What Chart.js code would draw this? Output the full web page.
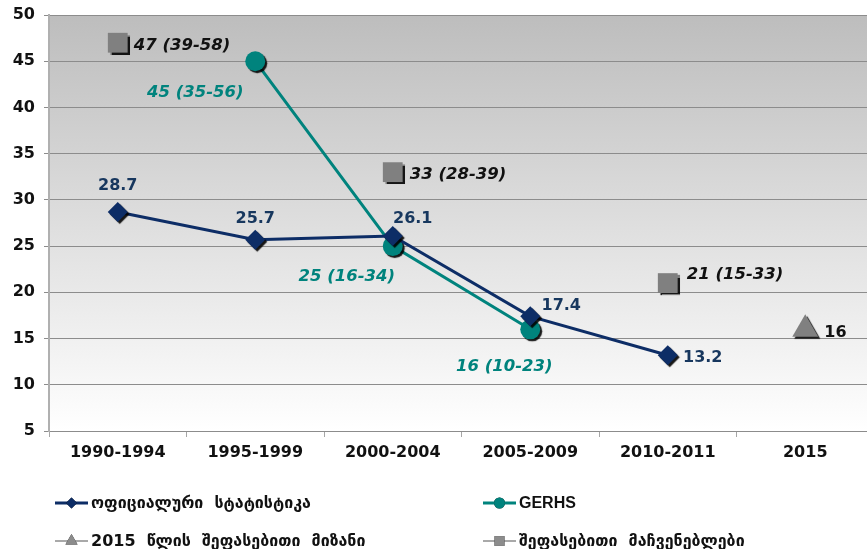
<!DOCTYPE html>
<html>
<head>
<meta charset="utf-8">
<script src="https://cdn.jsdelivr.net/npm/chart.js@4.4.0/dist/chart.umd.min.js"></script>
<style>
  html, body { margin: 0; padding: 0; background: #fff; overflow: hidden; }
  #wrap { width: 889px; height: 549px; }
</style>
</head>
<body>
<div id="wrap"><canvas id="lineChart" width="889" height="549"></canvas></div>
<script>
// categories and values
const periods = ["1990-1994", "1995-1999", "2000-2004", "2005-2009", "2010-2011", "2015"];
const officialStats = [28.7, 25.7, 26.1, 17.4, 13.2, null];
const gerhsValues = [null, 45, 25, 16, null, null];
const gerhsLabels = [null, "45 (35-56)", "25 (16-34)", "16 (10-23)", null, null];
const target2015 = [null, null, null, null, null, 16];
const estimateValues = [47, null, 33, null, 21, null];
const estimateLabels = ["47 (39-58)", null, "33 (28-39)", null, "21 (15-33)", null];
const yTicks = [5, 10, 15, 20, 25, 30, 35, 40, 45, 50];

const legendNames = [
  "ოფიციალური  სტატისტიკა",
  "GERHS",
  "2015  წლის  შეფასებითი  მიზანი",
  "შეფასებითი  მაჩვენებლები",
];

const navy = "#0d2d66";
const navyText = "#17375e";
const teal = "#00837d";
const grey = "#808080";

const ctx = document.getElementById("lineChart").getContext("2d");

//! gradient behind the plot area
const plotBackground = {
  id: "plotBackground",
  beforeDraw(chart) {
    const { ctx, chartArea: a } = chart;
    const g = ctx.createLinearGradient(0, a.top, 0, a.bottom);
    g.addColorStop(0, "#bdbdbd");
    g.addColorStop(1, "#ffffff");
    ctx.save();
    ctx.fillStyle = g;
    ctx.fillRect(a.left, a.top, a.right - a.left, a.bottom - a.top);
    ctx.restore();
  },
};

//! shadow under the markers, not under the lines
const markerShadow = {
  id: "markerShadow",
  beforeDatasetDraw(chart, args) {
    const ctx = chart.ctx;
    const line = args.meta.dataset;
    if (line && !line._noShadow) {
      const orig = line.draw;
      line.draw = function (c, area) {
        c.save();
        c.shadowColor = "transparent";
        orig.call(this, c, area);
        c.restore();
      };
      line._noShadow = true;
    }
    ctx.save();
    ctx.shadowColor = "rgba(0,0,0,0.9)";
    ctx.shadowOffsetX = 2;
    ctx.shadowOffsetY = 2;
    ctx.shadowBlur = 1;
  },
  afterDatasetDraw(chart) {
    chart.ctx.restore();
  },
};

//! value labels next to the points
const valueLabels = {
  id: "valueLabels",
  afterDatasetsDraw(chart) {
    const ctx = chart.ctx;
    ctx.save();
    ctx.textBaseline = "middle";
    chart.data.datasets.forEach((ds, i) => {
      const meta = chart.getDatasetMeta(i);
      const opt = ds.labelOpts;
      meta.data.forEach((pt, j) => {
        if (ds.data[j] === null) return;
        const text = opt.texts ? opt.texts[j] : String(ds.data[j]);
        const off = opt.offsets[j] || [0, 0];
        ctx.font = opt.font;
        ctx.fillStyle = opt.color;
        ctx.textAlign = opt.align;
        ctx.fillText(text, pt.x + off[0], pt.y + off[1]);
      });
    });
    ctx.restore();
  },
};

//! legend in two rows of two, drawn by hand
const customLegend = {
  id: "customLegend",
  afterDraw(chart) {
    const ctx = chart.ctx;
    const cols = [55, 483];
    const rows = [503, 541];
    ctx.save();
    chart.data.datasets.forEach((ds, i) => {
      const x = cols[i % 2];
      const y = rows[Math.floor(i / 2)];
      const lc = ds.legendColor;
      ctx.strokeStyle = lc;
      ctx.lineWidth = i < 2 ? 3 : 1.5;
      ctx.beginPath();
      ctx.moveTo(x, y);
      ctx.lineTo(x + 33, y);
      ctx.stroke();
      Chart.helpers.drawPoint(ctx, {
        pointStyle: ds.pointStyle,
        radius: i < 2 ? 5.5 : 7,
        borderWidth: 0,
        rotation: 0,
      }, x + 16.5, y);
      ctx.fillStyle = lc;
      ctx.fill();
      ctx.fillStyle = "#111";
      ctx.textBaseline = "middle";
      ctx.textAlign = "left";
      ctx.font = i === 1 ? "bold 16px 'Liberation Sans'" : "bold 16px 'DejaVu Sans'";
      ctx.fillText(legendNames[i], x + 36, y + 1);
    });
    ctx.restore();
  },
};

new Chart(ctx, {
  type: "line",
  data: {
    labels: periods,
    datasets: [
      {
        label: legendNames[0],
        data: officialStats,
        borderColor: navy,
        backgroundColor: navy,
        borderWidth: 3,
        pointStyle: "rectRot",
        pointRadius: 10,
        pointBorderWidth: 0,
        legendColor: navy,
        labelOpts: {
          font: "bold 16px 'DejaVu Sans'",
          color: navyText,
          align: "center",
          offsets: [[0, -26], [0, -21], [20, -17], [31, -11], [35, 3]],
        },
      },
      {
        label: legendNames[1],
        data: gerhsValues,
        borderColor: teal,
        backgroundColor: teal,
        borderWidth: 3,
        pointStyle: "circle",
        pointRadius: 10,
        pointBorderWidth: 0,
        legendColor: teal,
        labelOpts: {
          texts: gerhsLabels,
          font: "italic bold 16.5px 'DejaVu Sans'",
          color: teal,
          align: "center",
          offsets: [null, [-60, 31], [-46, 31], [-26, 37]],
        },
      },
      {
        label: legendNames[2],
        data: target2015,
        borderColor: grey,
        backgroundColor: grey,
        showLine: false,
        pointStyle: "triangle",
        pointRadius: 15,
        pointBorderWidth: 0,
        legendColor: "#8c8c8c",
        labelOpts: {
          font: "bold 16px 'DejaVu Sans'",
          color: "#111",
          align: "left",
          offsets: [null, null, null, null, null, [19, 4]],
        },
      },
      {
        label: legendNames[3],
        data: estimateValues,
        borderColor: grey,
        backgroundColor: grey,
        showLine: false,
        pointStyle: "rect",
        pointRadius: 14,
        pointBorderWidth: 0,
        legendColor: "#8c8c8c",
        labelOpts: {
          texts: estimateLabels,
          font: "italic bold 16.5px 'DejaVu Sans'",
          color: "#111",
          align: "left",
          offsets: [[16, 3], null, [17, 3], null, [19, -8]],
        },
      },
    ],
  },
  options: {
    responsive: false,
    animation: false,
    events: [],
    layout: { padding: { top: 15, bottom: 80, left: 0, right: 0 } },
    plugins: {
      legend: { display: false },
      tooltip: { enabled: false },
    },
    scales: {
      x: {
        offset: true,
        afterFit(scale) {
          scale.height = 38;
        },
        grid: {
          offset: true,
          drawOnChartArea: false,
          drawTicks: true,
          tickLength: 6,
          color: "#a6a6a6",
        },
        border: { color: "#8c8c8c", width: 1 },
        ticks: {
          color: "#111",
          font: { family: "'DejaVu Sans'", weight: "bold", size: 16 },
          padding: 6,
          maxRotation: 0,
          autoSkip: false,
        },
      },
      y: {
        min: 5,
        max: 50,
        afterFit(scale) {
          scale.width = 49;
          scale.paddingTop = 0;
        },
        afterBuildTicks(scale) {
          scale.ticks = yTicks.map((v) => ({ value: v }));
        },
        grid: {
          color: "#8c8c8c",
          lineWidth: 1,
          tickLength: 5,
          drawTicks: true,
        },
        border: { color: "#b0b0b0", width: 2 },
        ticks: {
          color: "#111",
          font: { family: "'DejaVu Sans'", weight: "bold", size: 16, lineHeight: 1 },
          padding: 9,
        },
      },
    },
  },
  plugins: [plotBackground, markerShadow, valueLabels, customLegend],
});
</script>
</body>
</html>
